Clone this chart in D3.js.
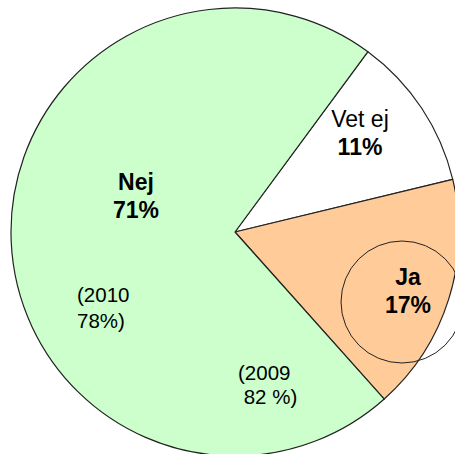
<!DOCTYPE html>
<html>
<head>
<meta charset="utf-8">
<script src="https://cdn.jsdelivr.net/npm/d3@7"></script>
<style>
  html, body { margin: 0; padding: 0; background: #fff; }
  svg { display: block; }
</style>
</head>
<body>
<script>
// pie data, clockwise from the top right
var categories = ["Vet ej", "Ja", "Nej"];
var values = [11, 17, 71];
var pct_labels = ["11%", "17%", "71%"];
var colors = ["#ffffff", "#ffcc99", "#ccffcc"];

// older figures written inside the Nej slice
var note_2010 = ["(2010", "78%)"];
var note_2009 = ["(2009", " 82 %)"];

var W = 455, H = 454;
var cx = 235, cy = 232, R = 224;
var start = 36.4 * Math.PI / 180;

var svg = d3.select("body").append("svg")
  .attr("width", W)
  .attr("height", H);

var g = svg.append("g")
  .attr("transform", "translate(" + cx + "," + cy + ")");

var pie = d3.pie()
  .sort(null)
  .startAngle(start)
  .endAngle(start + 2 * Math.PI)
  .value(function (d) { return d; });

var arc = d3.arc().innerRadius(0).outerRadius(R);

var slices = pie(values);

g.selectAll("path.slice")
  .data(slices)
  .enter().append("path")
  .attr("class", "slice")
  .attr("d", arc)
  .attr("fill", function (d, i) { return colors[i]; })
  .attr("stroke", "#222")
  .attr("stroke-width", 1.2)
  .attr("stroke-linejoin", "round");

// label positions (relative to centre)
var label_pos = [[125, -105], [173, 53], [-99, -42]];
var label_bold = [false, true, true];

function draw_label(i) {
  var t = g.append("text")
    .attr("text-anchor", "middle")
    .attr("font-family", "Liberation Sans, Arial, sans-serif")
    .attr("font-size", 23)
    .attr("fill", "#000");
  t.append("tspan")
    .attr("x", label_pos[i][0])
    .attr("y", label_pos[i][1])
    .attr("font-weight", label_bold[i] ? "bold" : "normal")
    .text(categories[i]);
  t.append("tspan")
    .attr("x", label_pos[i][0])
    .attr("y", label_pos[i][1] + 28)
    .attr("font-weight", "bold")
    .text(pct_labels[i]);
}
categories.forEach(function (c, i) { draw_label(i); });

// circle marking the Ja slice
svg.append("circle")
  .attr("cx", 402)
  .attr("cy", 302)
  .attr("r", 61)
  .attr("fill", "none")
  .attr("stroke", "#222")
  .attr("stroke-width", 1);

function draw_note(lines, x, y, dy) {
  var t = svg.append("text")
    .attr("font-family", "Liberation Sans, Arial, sans-serif")
    .attr("font-size", 20.5)
    .attr("fill", "#000")
    .attr("xml:space", "preserve");
  lines.forEach(function (s, i) {
    t.append("tspan")
      .attr("x", x)
      .attr("y", y + i * dy)
      .text(s);
  });
}

draw_note(note_2010, 77, 302, 26);
draw_note(note_2009, 238, 380, 24);
</script>
</body>
</html>
